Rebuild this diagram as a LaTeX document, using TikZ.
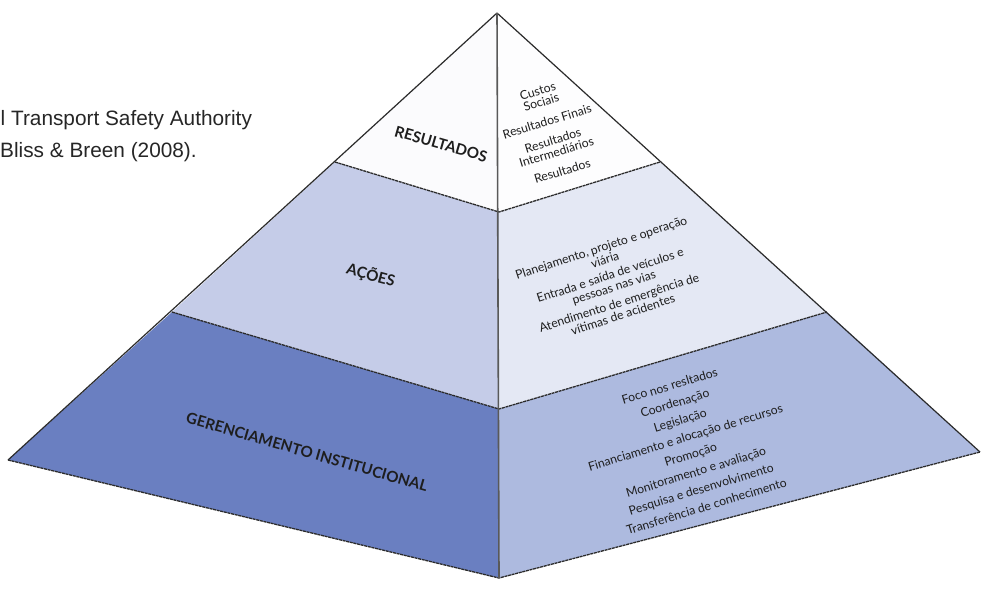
\documentclass[tikz,border=0pt]{standalone}
\usepackage{fontspec}
\setmainfont{Lato}
\newfontfamily\helv{Liberation Sans}
\definecolor{resL}{HTML}{FBFBFD}
\definecolor{resR}{HTML}{FDFDFE}
\definecolor{acoL}{HTML}{C5CCE8}
\definecolor{acoR}{HTML}{E4E8F4}
\definecolor{gerL}{HTML}{6A7FC1}
\definecolor{gerR}{HTML}{ADBADF}
\definecolor{edge}{HTML}{2B2B2B}
\definecolor{txt}{HTML}{1E1E1E}
\begin{document}
\begin{tikzpicture}[x=1pt,y=-1pt,
  outer/.style={draw=edge,line width=1.2pt,line join=round},
  band/.style={draw=edge,line width=1.3pt,dash pattern=on 3pt off 0.7pt},
  axis/.style={draw=black!65,line width=1.6pt},
  lbl/.style={text=txt,inner sep=0pt,font=\bfseries\fontsize{15.2}{15}\selectfont},
  itm/.style={text=txt,inner sep=0pt,align=center},
  src/.style={text=black!85,inner sep=0pt,anchor=base west,font=\helv\fontsize{20.8}{20.8}\selectfont}]
\useasboundingbox (0,0) rectangle (981,606);
\fill[white] (0,0) rectangle (981,606);
% geometry
\coordinate (A) at (497,13);
\coordinate (L) at (8,460);
\coordinate (R) at (980,452);
\coordinate (B) at (499,578);
\coordinate (L1) at (335,162);
\coordinate (C1) at (499,212);
\coordinate (R1) at (660,162);
\coordinate (L2) at (172,312);
\coordinate (C2) at (499,409);
\coordinate (R2) at (827,312);
% faces
\fill[resL] (A) -- (L1) -- (C1) -- cycle;
\fill[resR] (A) -- (C1) -- (R1) -- cycle;
\fill[acoL] (L1) -- (L2) -- (C2) -- (C1) -- cycle;
\fill[acoR] (C1) -- (C2) -- (R2) -- (R1) -- cycle;
\fill[gerL] (L2) -- (L) -- (B) -- (C2) -- cycle;
\fill[gerR] (C2) -- (B) -- (R) -- (R2) -- cycle;
% lines
\draw[band] (L1) -- (C1) -- (R1);
\draw[band] (L2) -- (C2) -- (R2);
\draw[band] (L) -- (B) -- (R);
\draw[outer] (L) -- (A) -- (R);
\draw[axis] (A) -- (B);
% left labels
\node[lbl,rotate=-16] (nres) at (441,144) {RESULTADOS};
\node[lbl,rotate=-15] (naco) at (371,275) {AÇÕES};
\node[lbl,rotate=-16] (nger) at (307,452) {GERENCIAMENTO INSTITUCIONAL};
% right texts
\node[itm,rotate=17,font=\fontsize{12.2}{12}\selectfont] (tres) at (550,131)
  {Custos\\Sociais\\[8pt]Resultados Finais\\[8pt]Resultados\\Intermediários\\[8pt]Resultados};
\node[itm,rotate=18,font=\fontsize{12.2}{12.5}\selectfont] (taco) at (612,281)
  {Planejamento, projeto e operação\\viária\\[4pt]Entrada e saída de veículos e\\pessoas nas vias\\[4pt]Atendimento de emergência de\\vítimas de acidentes};
\node[itm,rotate=17,font=\fontsize{12.2}{18}\selectfont] (tger) at (688,446)
  {Foco nos resltados\\Coordenação\\Legislação\\Financiamento e alocação de recursos\\Promoção\\Monitoramento e avaliação\\Pesquisa e desenvolvimento\\Transferência de conhecimento};
% source text
\node[src] (s1) at (0.5,125) {l Transport Safety Authority};
\node[src] (s2) at (0,157.5) {Bliss \& Breen (2008).};
\end{tikzpicture}
\end{document}
